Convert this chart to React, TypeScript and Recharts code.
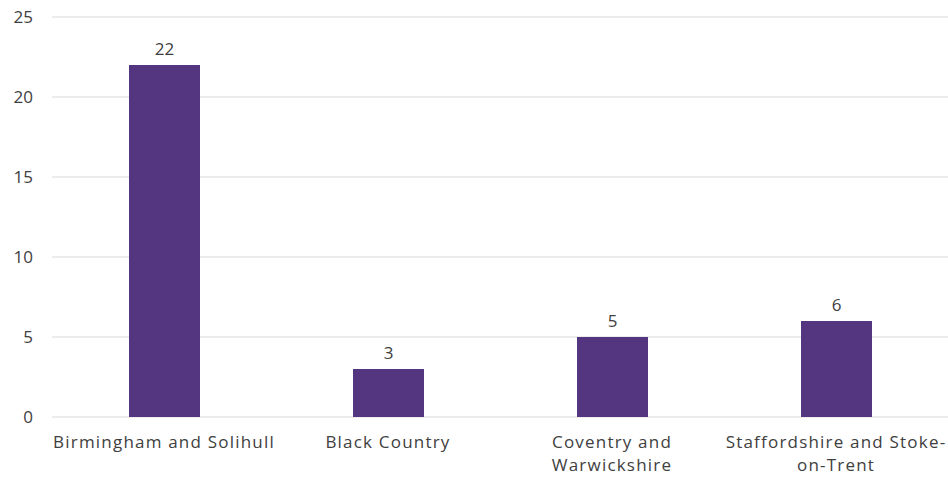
import { BarChart, Bar, XAxis, YAxis, CartesianGrid, LabelList } from "recharts";

const REGIONS = [
  "Birmingham and Solihull",
  "Black Country",
  "Coventry and Warwickshire",
  "Staffordshire and Stoke-on-Trent",
];
const COUNTS = [22, 3, 5, 6];
const TICK_LINES = [
  ["Birmingham and Solihull"],
  ["Black Country"],
  ["Coventry and", "Warwickshire"],
  ["Staffordshire and Stoke-", "on-Trent"],
];
const Y_TICKS = [0, 5, 10, 15, 20, 25];

const FONT = "'Open Sans', 'Noto Sans', sans-serif";
const TEXT = "#404040";

const data = REGIONS.map((region, i) => ({ region, count: COUNTS[i] }));

function RegionTick(props: any) {
  const { x, y, payload } = props;
  const lines = TICK_LINES[payload.index] ?? [payload.value];
  return (
    <text
      x={x}
      y={y}
      textAnchor="middle"
      fill={TEXT}
      fontSize={17}
      fontFamily={FONT}
      letterSpacing={1.2}
    >
      {lines.map((line, i) => (
        <tspan key={i} x={x} dy={i === 0 ? 23 : 23}>
          {line}
        </tspan>
      ))}
    </text>
  );
}

export default function App() {
  return (
    <div style={{ position: "absolute", left: 0, top: 0, width: 948, height: 477, background: "#fff" }}>
      <BarChart
        width={948}
        height={477}
        data={data}
        margin={{ top: 17, right: 0, bottom: 0, left: 0 }}
      >
        <CartesianGrid vertical={false} stroke="#d9d9d9" />
        <XAxis
          dataKey="region"
          height={60}
          axisLine={false}
          tickLine={false}
          interval={0}
          tick={<RegionTick />}
        />
        <YAxis
          width={52}
          domain={[0, 25]}
          ticks={Y_TICKS}
          axisLine={false}
          tickLine={false}
          tickMargin={13}
          tick={{ fill: TEXT, fontSize: 17, fontFamily: FONT }}
        />
        <Bar dataKey="count" fill="#54357f" barSize={71} isAnimationActive={false}>
          <LabelList
            dataKey="count"
            position="top"
            offset={10}
            fill={TEXT}
            fontSize={17}
            fontFamily={FONT}
          />
        </Bar>
      </BarChart>
    </div>
  );
}
